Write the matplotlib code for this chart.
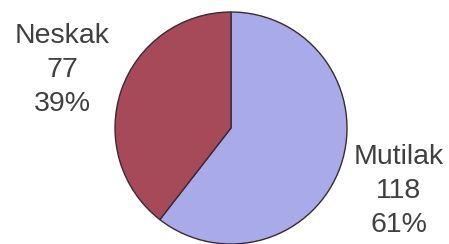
import matplotlib
matplotlib.use("Agg")
import matplotlib.pyplot as plt

categories = ["Mutilak", "Neskak"]
values = [118, 77]
colors = ["#a9abe9", "#a64a5a"]

W, H = 449, 244
fig = plt.figure(figsize=(W / 100, H / 100), dpi=100)
ax = fig.add_axes([0, 0, 1, 1])
ax.set_xlim(0, W)
ax.set_ylim(0, H)
ax.axis("off")

ax.pie(values, colors=colors, startangle=90, counterclock=False,
       center=(231, H - 128), radius=116,
       wedgeprops=dict(edgecolor="#3a2a30", linewidth=1.0))
ax.set_xlim(0, W)
ax.set_ylim(0, H)
ax.set_aspect("equal")

total = sum(values)
label_pos = {"Mutilak": (399, H - 191), "Neskak": (62, H - 70)}
for cat, v in zip(categories, values):
    pct = round(100 * v / total)
    x, y = label_pos[cat]
    ax.text(x, y, f"{cat}\n{v}\n{pct}%", ha="center", va="center",
            fontsize=20.5, family="Liberation Sans", color="#404040",
            linespacing=1.4)

fig.savefig("out.png", dpi=100)
